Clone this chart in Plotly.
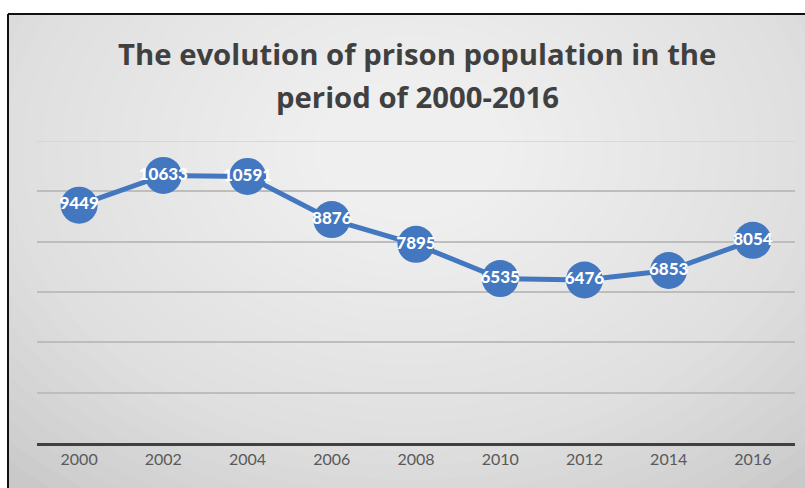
import plotly.graph_objects as go

years = ["2000", "2002", "2004", "2006", "2008", "2010", "2012", "2014", "2016"]
population = [9449, 10633, 10591, 8876, 7895, 6535, 6476, 6853, 8054]
title_lines = ["The evolution of prison population in the", "period of 2000-2016"]

W, H = 805, 488
L, R, T, B = 37, 10, 141, 45
PW, PH = W - L - R, H - T - B


def px(x):
    return (x - L) / PW


def py(y):
    return 1 - (y - T) / PH


fig = go.Figure()
fig.add_trace(go.Scatter(
    x=list(range(len(years))), y=population,
    mode="lines+markers+text",
    text=[str(v) for v in population],
    textposition="middle center",
    textfont=dict(family="Lato", size=17, color="white", weight=900),
    line=dict(color="#4377bf", width=5),
    marker=dict(size=37, color="#4377bf"),
    hoverinfo="skip", cliponaxis=False, showlegend=False,
))

shapes = []
# radial gradient background
n = 30
cx, cy = 410, 150
for i in range(n):
    f = 1 - i / n
    rx, ry = 580 * f, 430 * f
    shapes.append(dict(type="circle", xref="paper", yref="paper",
                       x0=px(cx - rx), x1=px(cx + rx), y0=py(cy + ry), y1=py(cy - ry),
                       fillcolor="rgba(255,255,255,0.057)", line=dict(width=0), layer="below"))
# white margins outside frame
shapes.append(dict(type="rect", xref="paper", yref="paper", x0=px(-5), x1=px(W + 5),
                   y0=py(14), y1=py(-5), fillcolor="white", line=dict(width=0), layer="below"))
shapes.append(dict(type="rect", xref="paper", yref="paper", x0=px(-5), x1=px(8),
                   y0=py(H + 5), y1=py(-5), fillcolor="white", line=dict(width=0), layer="below"))
# frame lines
shapes.append(dict(type="line", xref="paper", yref="paper", x0=px(8), x1=px(W + 5),
                   y0=py(14), y1=py(14), line=dict(color="#111111", width=2), layer="below"))
shapes.append(dict(type="line", xref="paper", yref="paper", x0=px(8), x1=px(8),
                   y0=py(14), y1=py(H + 5), line=dict(color="#111111", width=2), layer="below"))
# top gridline (at the range edge)
shapes.append(dict(type="line", xref="paper", yref="y", x0=0, x1=1, y0=12000, y1=12000,
                   line=dict(color="#d2d2d2", width=1.5), layer="below"))

annotations = [
    dict(text=title_lines[0], xref="paper", yref="paper", x=px(417), y=py(54),
         xanchor="center", yanchor="middle", showarrow=False,
         font=dict(family="Open Sans", size=29.3, color="#404040", weight="bold")),
    dict(text=title_lines[1], xref="paper", yref="paper", x=px(417), y=py(97),
         xanchor="center", yanchor="middle", showarrow=False,
         font=dict(family="Open Sans", size=29.3, color="#404040", weight="bold")),
]

fig.update_layout(
    width=W, height=H,
    margin=dict(l=L, r=R, t=T, b=B),
    paper_bgcolor="#c9c9c9", plot_bgcolor="rgba(0,0,0,0)",
    shapes=shapes, annotations=annotations,
    xaxis=dict(range=[-0.5, len(years) - 0.5], tickvals=list(range(len(years))), ticktext=years,
               showgrid=False, zeroline=False, showline=True, linecolor="#404040", linewidth=3,
               ticks="", tickfont=dict(family="Lato", size=16, color="#595959"),
               fixedrange=True),
    yaxis=dict(range=[0, 12000], dtick=2000, showticklabels=False, showgrid=True,
               gridcolor="#bdbdbd", gridwidth=1.5, zeroline=False, fixedrange=True),
)

fig.write_html("out.html", config={"displayModeBar": False},
               post_script="document.body.style.margin='0';")
